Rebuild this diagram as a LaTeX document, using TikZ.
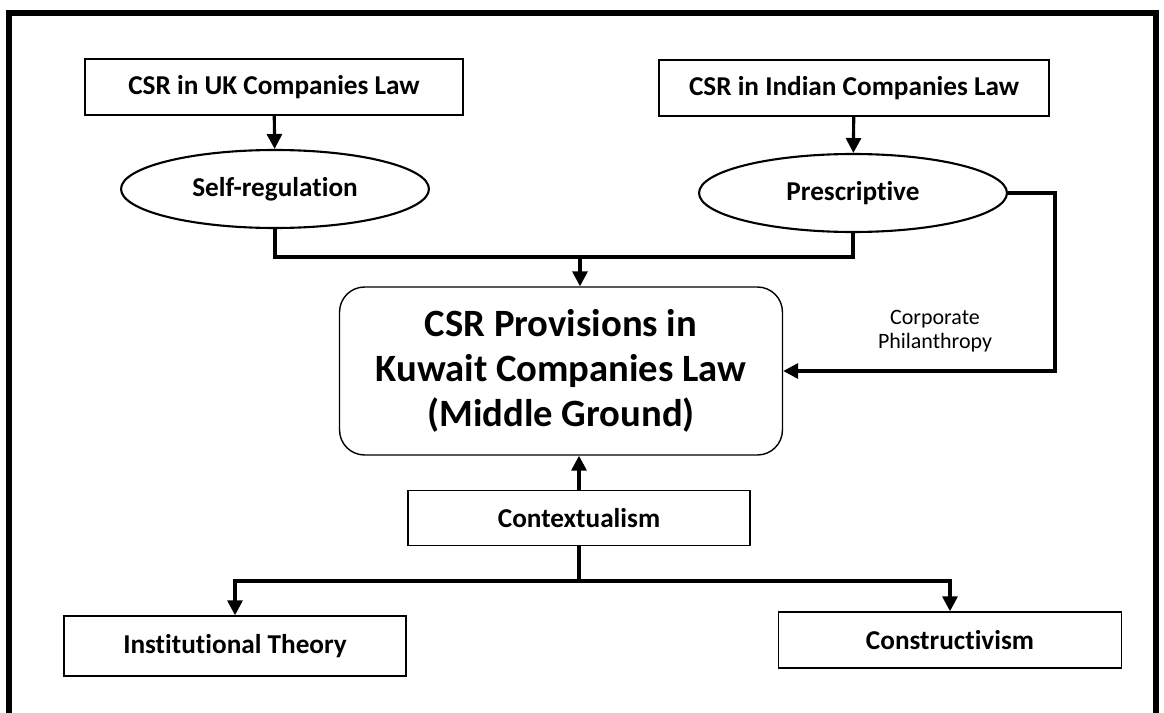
\documentclass[tikz,border=0pt]{standalone}
\usepackage{fontspec}
\setmainfont{Carlito}[Ligatures=NoCommon]
\usetikzlibrary{shapes.geometric, arrows.meta}

\begin{document}
\begin{tikzpicture}[x=0.02cm, y=-0.02cm,
  font=\bfseries\fontsize{15.5}{18}\selectfont,
  box/.style={draw, line width=0.8pt, inner sep=0pt, minimum height=1.12cm},
  oval/.style={draw, ellipse, line width=1.2pt, inner sep=0pt,
    minimum width=6.16cm, minimum height=1.56cm},
  link/.style={line width=1.8pt, -{Triangle[width=8.5pt,length=8.5pt]}},
  joint/.style={line width=1.8pt}]
  \useasboundingbox (0,0) rectangle (1164,713);
  % outer frame
  \draw[line width=3pt] (9,720) -- (9,13) -- (1156,13) -- (1156,720);

  \node[box, minimum width=7.56cm] (uk) at (274,87) {CSR in UK Companies Law};
  \node[box, minimum width=7.8cm] (india) at (854,88) {CSR in Indian Companies Law};
  \node[oval] (selfreg) at (275,189) {Self-regulation};
  \node[oval] (prescr) at (853,193) {Prescriptive};
  \node[box, rounded corners=0.5cm, minimum width=8.86cm, minimum height=3.36cm,
    align=center, font=\bfseries\fontsize{22}{25.5}\selectfont] (kuwait) at (561,371)
    {CSR Provisions in\\Kuwait Companies Law\\(Middle Ground)};
  \node[align=center, font=\fontsize{12.5}{14}\selectfont] (philabel) at (935,331)
    {Corporate\\Philanthropy};
  \node[box, minimum width=6.84cm, minimum height=1.1cm] (context) at (579,518) {Contextualism};
  \node[box, minimum width=6.84cm, minimum height=1.2cm] (inst) at (235,646) {Institutional Theory};
  \node[box, minimum width=6.86cm] (constr) at (950,640) {Constructivism};

  \coordinate (jtop) at (580,257);
  \coordinate (rside) at (1055,371);
  \coordinate (jbot) at (579,581);

  \draw[link] (uk) -- (selfreg);
  \draw[link] (india) -- (prescr);
  \draw[joint] (selfreg.south) |- (jtop);
  \draw[joint] (prescr.south) |- (jtop);
  \draw[link] (jtop) -- (jtop |- kuwait.north);
  \draw[link] (prescr.east) -| (rside) -- (kuwait.east);
  \draw[link] (context.north) -- (context.north |- kuwait.south);
  \draw[joint] (context.south) -- (jbot);
  \draw[link] (jbot) -| (inst.north);
  \draw[link] (jbot) -| (constr.north);
\end{tikzpicture}
\end{document}
